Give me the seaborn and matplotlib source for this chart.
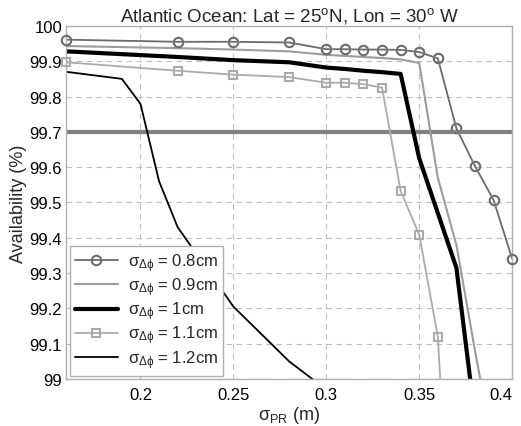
import matplotlib
matplotlib.use("Agg")
import matplotlib.pyplot as plt
from matplotlib.lines import Line2D
import seaborn as sns
import numpy as np

# sigma_PR (m) and availability (%) per sigma_dphi
x_08 = [0.16, 0.22, 0.25, 0.28, 0.30, 0.31, 0.32, 0.33, 0.34, 0.35, 0.36, 0.37, 0.38, 0.39, 0.40]
y_08 = [99.961, 99.955, 99.955, 99.953, 99.934, 99.934, 99.933, 99.933, 99.932, 99.926, 99.908, 99.71, 99.603, 99.507, 99.341]

x_09 = [0.16, 0.22, 0.25, 0.28, 0.30, 0.31, 0.32, 0.33, 0.34, 0.35, 0.36, 0.37, 0.38, 0.39]
y_09 = [99.943, 99.937, 99.933, 99.928, 99.918, 99.915, 99.912, 99.909, 99.905, 99.895, 99.57, 99.38, 99.08, 98.8]

x_10 = [0.16, 0.22, 0.25, 0.28, 0.30, 0.31, 0.32, 0.33, 0.34, 0.35, 0.36, 0.37, 0.38]
y_10 = [99.928, 99.912, 99.903, 99.897, 99.882, 99.878, 99.873, 99.869, 99.864, 99.625, 99.47, 99.315, 98.89]

x_11 = [0.16, 0.22, 0.25, 0.28, 0.30, 0.31, 0.32, 0.33, 0.34, 0.35, 0.36, 0.37]
y_11 = [99.897, 99.873, 99.862, 99.855, 99.839, 99.839, 99.835, 99.825, 99.532, 99.409, 99.12, 98.2]

x_12 = [0.16, 0.19, 0.20, 0.21, 0.22, 0.25, 0.28, 0.30]
y_12 = [99.87, 99.85, 99.779, 99.56, 99.43, 99.205, 99.05, 98.97]

labels = [r'$\sigma_{\Delta\phi}$ = 0.8cm', r'$\sigma_{\Delta\phi}$ = 0.9cm',
          r'$\sigma_{\Delta\phi}$ = 1cm', r'$\sigma_{\Delta\phi}$ = 1.1cm',
          r'$\sigma_{\Delta\phi}$ = 1.2cm']
threshold = 99.7

x_ticks = [0.2, 0.25, 0.3, 0.35, 0.4]
x_ticklabels = ['0.2', '0.25', '0.3', '0.35', '0.4']
y_ticks = [99, 99.1, 99.2, 99.3, 99.4, 99.5, 99.6, 99.7, 99.8, 99.9, 100]
y_ticklabels = ['99', '99.1', '99.2', '99.3', '99.4', '99.5', '99.6', '99.7', '99.8', '99.9', '100']

sns.set_style("whitegrid")
plt.rcParams['font.family'] = ['Liberation Sans', 'DejaVu Sans']
plt.rcParams['mathtext.fontset'] = 'custom'
plt.rcParams['mathtext.rm'] = 'Liberation Sans'
plt.rcParams['mathtext.it'] = 'Liberation Sans'
plt.rcParams['mathtext.bf'] = 'Liberation Sans:bold'
plt.rcParams['mathtext.sf'] = 'Liberation Sans'

fig = plt.figure(figsize=(5.21, 4.27), dpi=100)
ax = fig.add_axes([0.127, 0.110, 0.856, 0.827])

styles = [
    dict(color='#6b6b6b', lw=1.3, marker='o', ms=6.8, mfc='none', mew=1.5),
    dict(color='#9c9c9c', lw=1.5),
    dict(color='black', lw=3.0),
    dict(color='#ababab', lw=1.3, marker='s', ms=6, mfc='none', mew=1.5),
    dict(color='black', lw=1.3),
]
series = [(x_08, y_08), (x_09, y_09), (x_10, y_10), (x_11, y_11), (x_12, y_12)]

ax.axhline(threshold, color='#808080', lw=3.0, zorder=1.5)

handles = []
for (xs, ys), lab, st in zip(series, labels, styles):
    sns.lineplot(x=xs, y=ys, ax=ax, sort=False, legend=False, **st)
    if 'marker' in st:
        xs_in = [a for a, b in zip(xs, ys) if b >= 99]
        ys_in = [b for b in ys if b >= 99]
        ax.plot(xs_in, ys_in, ls='none', marker=st['marker'], ms=st['ms'],
                mfc='none', mec=st['color'], mew=st['mew'], clip_on=False, zorder=3)
    handles.append(Line2D([], [], ls='-', label=lab, **st))

ax.set_xlim(0.16, 0.4)
ax.set_ylim(99, 100)
ax.set_xticks(x_ticks)
ax.set_xticklabels(x_ticklabels)
ax.set_yticks(y_ticks)
ax.set_yticklabels(y_ticklabels)
ax.tick_params(length=0, labelsize=12, colors='black')
ax.tick_params(axis='x', pad=6)
ax.tick_params(axis='y', pad=3)
# keep the last x label inside the figure
ax.get_xticklabels()[-1].set_horizontalalignment('right')

ax.grid(True, ls=(0, (5, 4)), color='#bdbdbd', lw=0.8)
for s in ax.spines.values():
    s.set_color('#b0b0b0')
    s.set_linewidth(1.0)

ax.set_title(r'Atlantic Ocean: Lat = 25$^{\mathrm{o}}$N, Lon = 30$^{\mathrm{o}}$ W', fontsize=13.5, pad=4)
ax.set_xlabel(r'$\sigma_{PR}$ (m)', fontsize=13, labelpad=1)
ax.set_ylabel('Availability (%)', fontsize=13, labelpad=2)

leg = ax.legend(handles=handles, loc='lower left', fontsize=12, frameon=True, fancybox=False,
                borderaxespad=0.2, handlelength=2.6, labelspacing=0.1,
                borderpad=0.3, handletextpad=0.6)
leg.get_frame().set_edgecolor('#b0b0b0')
leg.get_frame().set_linewidth(1.0)
leg.get_frame().set_alpha(1)

fig.savefig('out.png', dpi=100)
